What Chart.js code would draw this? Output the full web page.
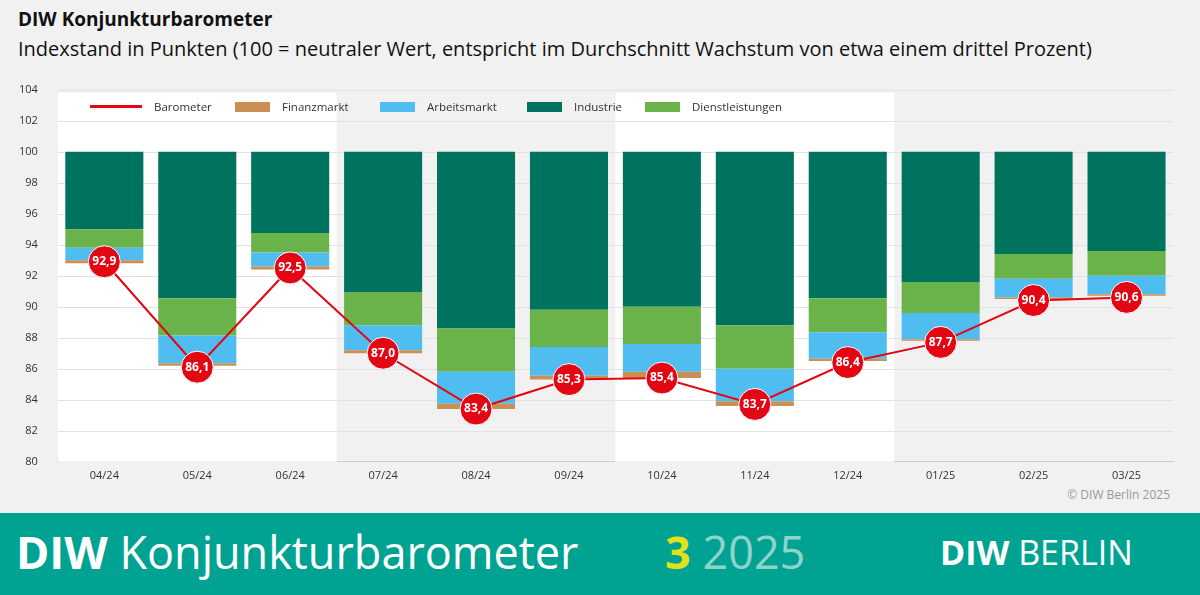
<!DOCTYPE html>
<html><head><meta charset="utf-8">
<script src="https://cdn.jsdelivr.net/npm/chart.js@4"></script>
<style>
body{margin:0;width:1200px;height:595px;background:#f1f1f1;font-family:"Open Sans",sans-serif;position:relative;overflow:hidden}
#t1{position:absolute;left:18px;top:6px;font-size:19px;font-weight:700;color:#111}
#t2{position:absolute;left:18px;top:35px;font-size:20px;color:#111}
#wrap{position:absolute;left:-3px;top:71px;width:1193px;height:410px}
#legend{position:absolute;top:99px;left:90px;font-size:11.5px;color:#333;height:14px;width:900px}
#legend span.i{position:absolute;display:flex;align-items:center;white-space:nowrap}
#legend i{display:inline-block;width:35px;height:10px;margin-right:12px}
#copy{position:absolute;right:30px;top:486px;font-size:12px;color:#999}
#foot{position:absolute;left:0;top:513px;width:1200px;height:82px;background:#00a392;color:#fff}
#foot .a{position:absolute;left:16px;top:8px;font-size:45px}
#foot .b{position:absolute;left:665px;top:8px;font-size:45px;color:#8fd3cb}
#foot .c{position:absolute;left:940px;top:16px;font-size:34px;font-weight:700}
</style></head><body>
<div id="t1">DIW Konjunkturbarometer</div>
<div id="t2">Indexstand in Punkten (100 = neutraler Wert, entspricht im Durchschnitt Wachstum von etwa einem drittel Prozent)</div>
<div id="wrap"><canvas id="c"></canvas></div>
<div id="legend">
<span class="i" style="left:0"><i style="height:3px;width:52px;background:#e30613"></i>Barometer</span>
<span class="i" style="left:145px"><i style="background:#c98f55"></i>Finanzmarkt</span>
<span class="i" style="left:290px"><i style="background:#4fbdf0"></i>Arbeitsmarkt</span>
<span class="i" style="left:437px"><i style="background:#00735f"></i>Industrie</span>
<span class="i" style="left:555px"><i style="background:#6ab34a"></i>Dienstleistungen</span>
</div>
<div id="copy">© DIW Berlin 2025</div>
<div id="foot"><div class="a"><b>DIW</b> Konjunkturbarometer</div><div class="b"><b style="color:#e2e21a">3</b> 2025</div><div class="c">DIW <span style="font-weight:400">BERLIN</span></div></div>
<script>
const labels = ["04/24","05/24","06/24","07/24","08/24","09/24","10/24","11/24","12/24","01/25","02/25","03/25"];
const barometer = [92.9,86.1,92.5,87.0,83.4,85.3,85.4,83.7,86.4,87.7,90.4,90.6];
const barBottom = [92.8,86.2,92.4,87.0,83.4,85.3,85.4,83.6,86.5,87.8,90.5,90.7];
const finanzTop = [93.0,86.35,92.6,87.2,83.75,85.55,85.8,83.9,86.65,87.9,90.6,90.8];
const arbeitTop = [93.8,88.15,93.5,88.8,85.8,87.4,87.6,86.0,88.35,89.6,91.8,92.0];
const dienstTop = [95.0,90.55,94.75,90.95,88.6,89.8,90.0,88.8,90.55,91.6,93.4,93.6];
const top100 = labels.map(() => 100);
const whiteBands = [[0,2],[6,8]];

function seg(lo, hi) { return lo.map((v, i) => [v, hi[i]]); }

const bands = {
  id: "bands",
  beforeDatasetsDraw(chart) {
    const { ctx, scales: { x, y }, chartArea } = chart;
    const half = (x.getPixelForValue(1) - x.getPixelForValue(0)) / 2;
    ctx.save();
    ctx.fillStyle = "#fff";
    whiteBands.forEach(([a, b]) => {
      const l = x.getPixelForValue(a) - half, r = x.getPixelForValue(b) + half;
      ctx.fillRect(l, y.getPixelForValue(103.8), r - l, chartArea.bottom - y.getPixelForValue(103.8));
    });
    ctx.strokeStyle = "#e2e2e2";
    ctx.lineWidth = 1;
    for (let v = 82; v <= 104; v += 2) {
      const py = Math.round(y.getPixelForValue(v)) + 0.5;
      ctx.beginPath(); ctx.moveTo(chartArea.left, py); ctx.lineTo(chartArea.right, py); ctx.stroke();
    }
    ctx.restore();
  },
  afterDatasetsDraw(chart) {
    const { ctx } = chart;
    const meta = chart.getDatasetMeta(0);
    ctx.save();
    ctx.fillStyle = "#fff";
    ctx.font = "bold 12px 'Open Sans'";
    ctx.textAlign = "center"; ctx.textBaseline = "middle";
    meta.data.forEach((p, i) => ctx.fillText(barometer[i].toFixed(1).replace(".", ","), p.x, p.y));
    ctx.restore();
  }
};

const barOpts = { grouped: false, categoryPercentage: 1, barPercentage: 0.84, borderSkipped: false, borderWidth: 0 };

new Chart(document.getElementById("c"), {
  data: {
    labels,
    datasets: [
      { type: "line", label: "Barometer", data: barometer, borderColor: "#e30613", borderWidth: 2,
        pointRadius: 16, pointHoverRadius: 16, pointBackgroundColor: "#e30613", pointBorderColor: "#fff", pointBorderWidth: 1, order: 0 },
      { type: "bar", label: "Finanzmarkt", data: seg(barBottom, finanzTop), backgroundColor: "#c98f55", ...barOpts, order: 1 },
      { type: "bar", label: "Arbeitsmarkt", data: seg(finanzTop, arbeitTop), backgroundColor: "#4fbdf0", ...barOpts, order: 1 },
      { type: "bar", label: "Dienstleistungen", data: seg(arbeitTop, dienstTop), backgroundColor: "#6ab34a", ...barOpts, order: 1 },
      { type: "bar", label: "Industrie", data: seg(dienstTop, top100), backgroundColor: "#00735f", ...barOpts, order: 1 }
    ]
  },
  options: {
    responsive: true, maintainAspectRatio: false, animation: false,
    layout: { padding: { left: 10, top: 12, right: 0 } },
    plugins: { legend: { display: false }, tooltip: { enabled: false } },
    scales: {
      x: { grid: { display: false }, border: { color: "#ccc" },
           ticks: { color: "#333", font: { size: 11, family: "Open Sans" }, padding: -1 } },
      y: { min: 80, max: 104, grid: { display: false, drawTicks: true }, border: { display: false },
           ticks: { stepSize: 2, color: "#333", font: { size: 11, family: "Open Sans" }, padding: 12 } }
    }
  },
  plugins: [bands]
});
</script>
</body></html>
